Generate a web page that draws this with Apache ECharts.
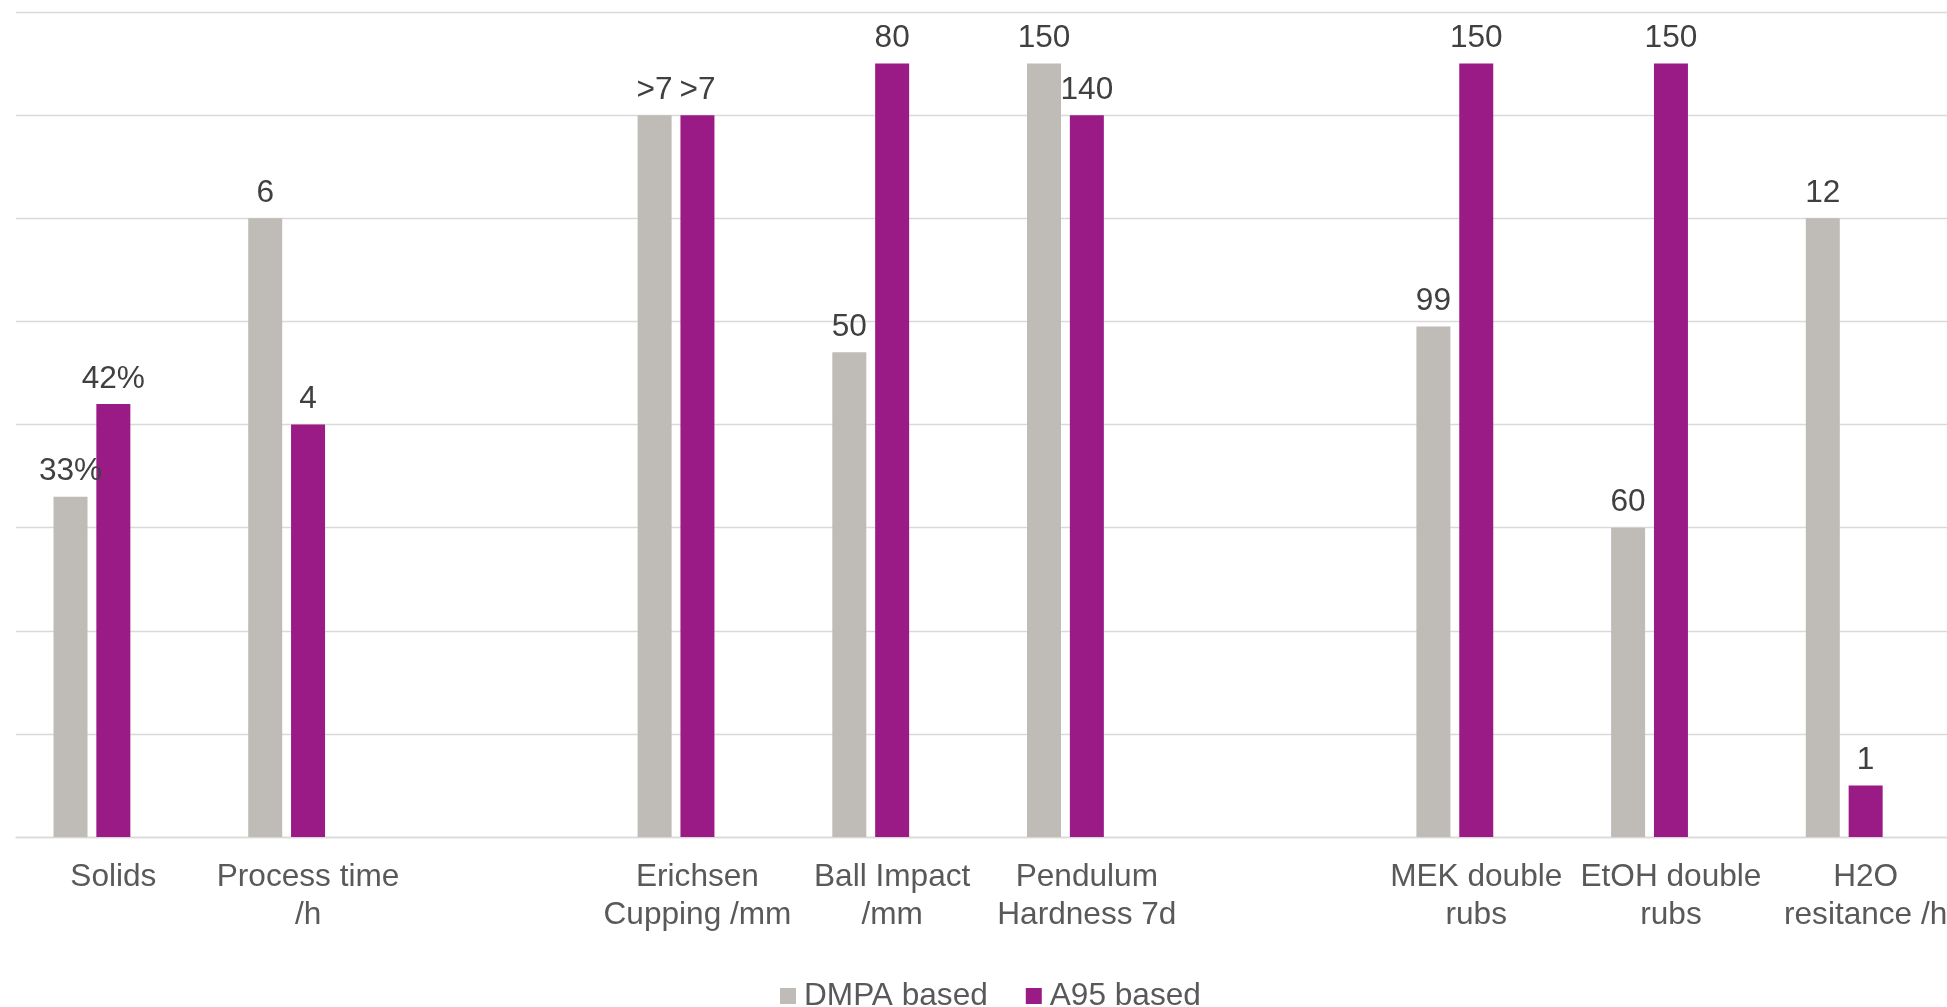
<!DOCTYPE html>
<html>
<head>
<meta charset="utf-8">
<script src="https://cdn.jsdelivr.net/npm/echarts@6/dist/echarts.min.js"></script>
<style>html,body{margin:0;padding:0;background:#fff;overflow:hidden;width:1947px;height:1007px}#c{width:1966px;height:1007px}</style>
</head>
<body>
<div id="c"></div>
<script>
const categories = ['Solids', 'Process time\n/h', '', 'Erichsen\nCupping /mm', 'Ball Impact\n/mm', 'Pendulum\nHardness 7d', '', 'MEK double\nrubs', 'EtOH double\nrubs', 'H2O\nresitance /h'];
const seriesNames = ['DMPA based', 'A95 based'];
const dmpaValues = [3.3, 6, null, 7, 4.7, 7.5, null, 4.95, 3.0, 6];
const a95Values = [4.2, 4, null, 7, 7.5, 7.0, null, 7.5, 7.5, 0.5];
const dmpaLabels = ['33%', '6', '', '>7', '50', '150', '', '99', '60', '12'];
const a95Labels = ['42%', '4', '', '>7', '80', '140', '', '150', '150', '1'];
const emptyValues = [null, null, null, null, null, null, null, null, null, null];

const FONT = 'Liberation Sans, Arial, sans-serif';
const FS = 31.6;
const chart = echarts.init(document.getElementById('c'));
function lbl(arr) {
  return {
    show: true, position: 'top', distance: 9,
    fontFamily: FONT, fontSize: FS, color: '#404040',
    formatter: p => arr[p.dataIndex]
  };
}
chart.setOption({
  animation: false,
  backgroundColor: '#fff',
  grid: { left: 16, right: 3, top: 12, bottom: 170, containLabel: false },
  legend: {
    data: seriesNames, left: 780, top: 980, padding: 0,
    icon: 'rect', itemWidth: 16, itemHeight: 16, itemGap: 38,
    textStyle: { fontFamily: FONT, fontSize: FS, color: '#595959', padding: [0, 0, 0, 3] }
  },
  xAxis: {
    type: 'category', data: categories,
    axisLine: { lineStyle: { color: '#d9d9d9', width: 1.3 } },
    axisTick: { show: false },
    axisLabel: { interval: 0, margin: 21, fontFamily: FONT, fontSize: FS, lineHeight: 38.5, color: '#595959', align: 'center' }
  },
  yAxis: {
    type: 'value', min: 0, max: 8, interval: 1,
    axisLabel: { show: false }, axisLine: { show: false }, axisTick: { show: false },
    splitLine: { lineStyle: { color: '#d9d9d9', width: 1.3 } }
  },
  series: [
    { name: seriesNames[0], type: 'bar', data: dmpaValues, barWidth: 34, barGap: '26%', itemStyle: { color: '#bfbcb8' }, label: lbl(dmpaLabels) },
    { name: seriesNames[1], type: 'bar', data: a95Values, barWidth: 34, barGap: '26%', itemStyle: { color: '#9a1b85' }, label: lbl(a95Labels) },
    { name: 'blank', type: 'bar', data: emptyValues, barWidth: 34, barGap: '26%' }
  ]
});
</script>
</body>
</html>
